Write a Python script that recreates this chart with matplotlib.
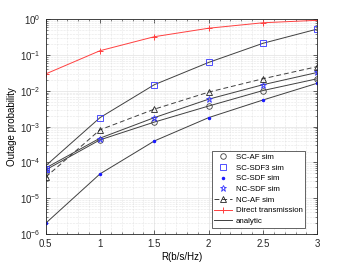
import numpy as np
import matplotlib.pyplot as plt
from matplotlib.ticker import MultipleLocator, LogLocator, NullFormatter

plt.rcParams['font.family'] = ['Liberation Sans', 'DejaVu Sans']

# 数据
R = [0.5, 1, 1.5, 2, 2.5, 3]
sc_af = [5.5e-5, 4.3e-4, 1.35e-3, 3.8e-3, 1.03e-2, 2.2e-2]
sc_sdf3 = [6.6e-5, 1.8e-3, 1.5e-2, 6.3e-2, 0.216, 0.54]
sc_sdf = [2.0e-6, 4.8e-5, 4.0e-4, 1.8e-3, 5.6e-3, 1.65e-2]
nc_sdf = [6.6e-5, 4.5e-4, 1.8e-3, 5.9e-3, 1.5e-2, 3.3e-2]
nc_af = [3.9e-5, 8.2e-4, 3.1e-3, 9.3e-3, 2.2e-2, 4.8e-2]
direct = [0.030, 0.134, 0.33, 0.57, 0.81, 0.95]

# 理论曲线
ana_sc_af = [6.2e-5, 4.3e-4, 1.35e-3, 3.8e-3, 1.03e-2, 2.2e-2]
ana_sc_sdf3 = [8.1e-5, 1.8e-3, 1.5e-2, 6.3e-2, 0.216, 0.54]
ana_sc_sdf = [2.0e-6, 4.8e-5, 4.0e-4, 1.8e-3, 5.6e-3, 1.65e-2]
ana_nc_sdf = [7.0e-5, 4.8e-4, 1.8e-3, 5.9e-3, 1.5e-2, 3.3e-2]
xticks = [0.5, 1, 1.5, 2, 2.5, 3]
xticklabels = ['0.5', '1', '1.5', '2', '2.5', '3']

gray = '#404040'
blue = '#3333ff'

fig = plt.figure(figsize=(3.5, 2.63), dpi=100)
ax = fig.add_axes([0.1306, 0.1103, 0.776, 0.8156])

for ana in [ana_sc_af, ana_sc_sdf3, ana_sc_sdf, ana_nc_sdf]:
    ax.plot(R, ana, '-', color=gray, lw=0.7)

ax.plot(R, sc_af, 'o', mfc='none', mec=gray, ms=4, mew=0.6, ls='none', label='SC-AF sim')
ax.plot(R, sc_sdf3, 's', mfc='none', mec=blue, ms=4, mew=0.6, ls='none', label='SC-SDF3 sim')
ax.plot(R, sc_sdf, '.', color='#1a1aff', ms=3, ls='none', label='SC-SDF sim')
ax.plot(R, nc_sdf, '*', mfc='none', mec=blue, ms=5, mew=0.6, ls='none', label='NC-SDF sim')
ax.plot(R, nc_af, '--^', color=gray, mfc='none', mec='#222222', ms=4.5, mew=0.6, lw=0.7,
        dashes=(5, 3), label='NC-AF sim')
ax.plot(R, direct, '-+', color='#ff4040', ms=4, mew=0.7, lw=0.7, label='Direct transmission')
ax.plot([], [], '-', color=gray, lw=0.7, label='analytic')

ax.set_yscale('log')
ax.set_xlim(0.5, 3)
ax.set_ylim(1e-6, 1)
ax.set_xticks(xticks)
ax.set_xticklabels(xticklabels)
ax.xaxis.set_minor_locator(MultipleLocator(0.1))
ax.yaxis.set_major_locator(LogLocator(base=10, numticks=10))
ax.yaxis.set_minor_locator(LogLocator(base=10, subs=np.arange(2, 10), numticks=20))
ax.yaxis.set_minor_formatter(NullFormatter())

ax.grid(which='major', color='#e6e6e6', lw=0.6, ls='-')
ax.grid(which='minor', color='#d0d0d0', lw=0.4, ls=':')
ax.set_axisbelow(True)
ax.tick_params(which='both', direction='in', top=True, right=True, labelsize=7, colors='#262626')
ax.tick_params(which='major', length=3, width=0.5)
ax.tick_params(which='minor', length=1.5, width=0.4)
for s in ax.spines.values():
    s.set_linewidth(0.6)
    s.set_color('#262626')

ax.set_xlabel('R(b/s/Hz)', fontsize=7, labelpad=2)
ax.set_ylabel('Outage probability', fontsize=7, labelpad=2)

leg = ax.legend(loc='lower right', bbox_to_anchor=(0.955, 0.03), fontsize=5.7, fancybox=False,
                framealpha=1, edgecolor='#262626', borderpad=0.3, labelspacing=0.4,
                handlelength=2.2, handletextpad=0.5, borderaxespad=0)
leg.get_frame().set_linewidth(0.5)

plt.savefig('out.png', dpi=100)
